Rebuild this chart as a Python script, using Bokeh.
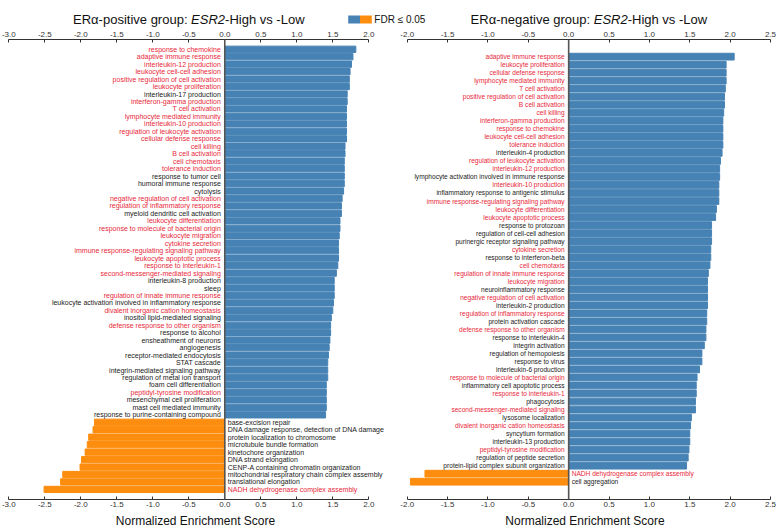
from bokeh.plotting import figure
from bokeh.layouts import row, column
from bokeh.models import (Range1d, LinearAxis, SingleIntervalTicker, PrintfTickFormatter,
                          Span, ColumnDataSource)
from bokeh.core.properties import value
from bokeh.embed import file_html
from bokeh.resources import INLINE

# ---------------- data ----------------
pos_terms = [
    "response to chemokine", "adaptive immune response", "interleukin-12 production",
    "leukocyte cell-cell adhesion", "positive regulation of cell activation", "leukocyte proliferation",
    "interleukin-17 production", "interferon-gamma production", "T cell activation",
    "lymphocyte mediated immunity", "interleukin-10 production", "regulation of leukocyte activation",
    "cellular defense response", "cell killing", "B cell activation", "cell chemotaxis",
    "tolerance induction", "response to tumor cell", "humoral immune response", "cytolysis",
    "negative regulation of cell activation", "regulation of inflammatory response",
    "myeloid dendritic cell activation", "leukocyte differentiation",
    "response to molecule of bacterial origin", "leukocyte migration", "cytokine secretion",
    "immune response-regulating signaling pathway", "leukocyte apoptotic process",
    "response to interleukin-1", "second-messenger-mediated signaling", "interleukin-8 production",
    "sleep", "regulation of innate immune response",
    "leukocyte activation involved in inflammatory response", "divalent inorganic cation homeostasis",
    "inositol lipid-mediated signaling", "defense response to other organism", "response to alcohol",
    "ensheathment of neurons", "angiogenesis", "receptor-mediated endocytosis", "STAT cascade",
    "integrin-mediated signaling pathway", "regulation of metal ion transport",
    "foam cell differentiation", "peptidyl-tyrosine modification", "mesenchymal cell proliferation",
    "mast cell mediated immunity", "response to purine-containing compound",
    "base-excision repair", "DNA damage response, detection of DNA damage",
    "protein localization to chromosome", "microtubule bundle formation", "kinetochore organization",
    "DNA strand elongation", "CENP-A containing chromatin organization",
    "mitochondrial respiratory chain complex assembly", "translational elongation",
    "NADH dehydrogenase complex assembly",
]
pos_nes = [
    1.82, 1.78, 1.76, 1.74, 1.73, 1.73, 1.70, 1.70, 1.69, 1.69, 1.69, 1.69, 1.69, 1.67, 1.67,
    1.66, 1.66, 1.66, 1.66, 1.65, 1.63, 1.62, 1.62, 1.60, 1.60, 1.59, 1.58, 1.58, 1.58, 1.57,
    1.55, 1.52, 1.52, 1.52, 1.51, 1.50, 1.48, 1.47, 1.47, 1.46, 1.45, 1.44, 1.43, 1.43, 1.43,
    1.41, 1.41, 1.41, 1.41, 1.40,
    -1.81, -1.83, -1.89, -1.91, -1.94, -1.99, -2.01, -2.25, -2.28, -2.51,
]
pos_shared = [
    1, 1, 1, 1, 1, 1, 0, 1, 1, 1, 1, 1, 1, 1, 1, 1, 1, 0, 0, 0, 1, 1, 0, 1, 1, 1, 1, 1, 1, 1,
    1, 0, 0, 1, 0, 1, 0, 1, 0, 0, 0, 0, 0, 0, 0, 0, 1, 0, 0, 0,
    0, 0, 0, 0, 0, 0, 0, 0, 0, 1,
]

neg_terms = [
    "adaptive immune response", "leukocyte proliferation", "cellular defense response",
    "lymphocyte mediated immunity", "T cell activation", "positive regulation of cell activation",
    "B cell activation", "cell killing", "interferon-gamma production", "response to chemokine",
    "leukocyte cell-cell adhesion", "tolerance induction", "interleukin-4 production",
    "regulation of leukocyte activation", "interleukin-12 production",
    "lymphocyte activation involved in immune response", "interleukin-10 production",
    "inflammatory response to antigenic stimulus", "immune response-regulating signaling pathway",
    "leukocyte differentiation", "leukocyte apoptotic process", "response to protozoan",
    "regulation of cell-cell adhesion", "purinergic receptor signaling pathway", "cytokine secretion",
    "response to interferon-beta", "cell chemotaxis", "regulation of innate immune response",
    "leukocyte migration", "neuroinflammatory response", "negative regulation of cell activation",
    "interleukin-2 production", "regulation of inflammatory response", "protein activation cascade",
    "defense response to other organism", "response to interleukin-4", "integrin activation",
    "regulation of hemopoiesis", "response to virus", "interleukin-6 production",
    "response to molecule of bacterial origin", "inflammatory cell apoptotic process",
    "response to interleukin-1", "phagocytosis", "second-messenger-mediated signaling",
    "lysosome localization", "divalent inorganic cation homeostasis", "syncytium formation",
    "interleukin-13 production", "peptidyl-tyrosine modification", "regulation of peptide secretion",
    "protein-lipid complex subunit organization",
    "NADH dehydrogenase complex assembly", "cell aggregation",
]
neg_nes = [
    2.05, 1.95, 1.95, 1.95, 1.94, 1.93, 1.93, 1.92, 1.91, 1.91, 1.91, 1.91, 1.90, 1.88, 1.87,
    1.87, 1.86, 1.86, 1.86, 1.83, 1.82, 1.77, 1.77, 1.77, 1.76, 1.76, 1.75, 1.73, 1.72, 1.72,
    1.72, 1.72, 1.71, 1.71, 1.70, 1.70, 1.68, 1.65, 1.65, 1.62, 1.59, 1.58, 1.58, 1.57, 1.57,
    1.52, 1.51, 1.50, 1.50, 1.49, 1.48, 1.46,
    -1.78, -1.96,
]
neg_shared = [
    1, 1, 1, 1, 1, 1, 1, 1, 1, 1, 1, 1, 0, 1, 1, 0, 1, 0, 1, 1, 1, 0, 0, 0, 1, 0, 1, 1, 1, 0,
    1, 0, 1, 0, 1, 0, 0, 0, 0, 0, 1, 0, 1, 0, 1, 0, 1, 0, 0, 1, 0, 0,
    1, 0,
]

pos_title = ["ER\u03b1-positive group: ", "ESR2", "-High vs -Low"]
neg_title = ["ER\u03b1-negative group: ", "ESR2", "-High vs -Low"]
xlabel = "Normalized Enrichment Score"
legend_text = "FDR \u2264 0.05"

# ---------------- style / layout ----------------
FONT = "Liberation Sans"
BLUE = "#4682b4"
ORANGE = "#fd8d0e"
RED = "#e8283a"
DARK = "#222222"
AXC = "#333333"

PAGE_W = 779
HEAD_H = 28
FIG_H = 503
BOT = 32

W1 = 390
XR1 = (-3.115, -3.115 + W1 / 72.0)
W2 = PAGE_W - W1
_s2 = 363.3 / 4.5
XR2 = (-2.0 - 16.7 / _s2, -2.0 - 16.7 / _s2 + W2 / _s2)

CW = {'E': 667, 'R': 722, '\u03b1': 578, '-': 333, 'p': 556, 'o': 556, 's': 500, 'i': 222,
      't': 278, 'v': 500, 'e': 556, ' ': 278, 'g': 556, 'r': 333, 'u': 556, ':': 278,
      'S': 667, '2': 556, 'H': 722, 'h': 556, 'L': 556, 'w': 722, 'n': 556, 'a': 556}


def tw(s, size):
    return sum(CW.get(c, 556) for c in s) / 1000.0 * size


def panel(terms, nes, shared, width, xr, bounds, pad_top, pad_bot, lab_size):
    n = len(terms)
    p = figure(width=width, height=FIG_H, output_backend="svg", toolbar_location=None,
               x_range=Range1d(*xr), y_range=Range1d(n - 1 + pad_bot, -pad_top),
               y_axis_location=None, min_border_left=0, min_border_right=0,
               min_border_top=0, min_border_bottom=BOT)
    p.outline_line_color = None
    p.grid.visible = False

    ys = list(range(n))
    cols = [BLUE if v > 0 else ORANGE for v in nes]
    tcols = [RED if s else DARK for s in shared]
    src = ColumnDataSource(dict(y=ys, nes=nes, c=cols))
    p.hbar(y="y", left=0, right="nes", height=0.84, color="c", source=src)

    pos = [i for i in ys if nes[i] > 0]
    neg = [i for i in ys if nes[i] <= 0]
    for idx, align, off in ((pos, "right", -4), (neg, "left", 3)):
        s = ColumnDataSource(dict(x=[0] * len(idx), y=idx, t=[terms[i] for i in idx],
                                  c=[tcols[i] for i in idx]))
        p.text(x="x", y="y", text="t", text_color="c", source=s, text_align=align,
               text_baseline="middle", x_offset=off, text_font=value(FONT),
               text_font_size=lab_size)

    p.add_layout(Span(location=0, dimension="height", line_color="#555555", line_width=1.6))

    top_axis = LinearAxis()
    p.add_layout(top_axis, "above")
    bottom_axis = p.below[0]
    for ax in (bottom_axis, top_axis):
        ax.bounds = bounds
        ax.ticker = SingleIntervalTicker(interval=0.5, num_minor_ticks=0)
        ax.formatter = PrintfTickFormatter(format="%.1f")
        ax.major_tick_in = 3
        ax.major_tick_out = 0
        ax.minor_tick_in = 0
        ax.minor_tick_out = 0
        ax.major_label_standoff = 3
        ax.major_label_text_font = FONT
        ax.major_label_text_font_size = "8px"
        ax.major_label_text_color = AXC
        ax.axis_line_color = AXC
        ax.major_tick_line_color = AXC
    bottom_axis.major_label_standoff = 2
    bottom_axis.axis_label = xlabel
    bottom_axis.axis_label_text_font = FONT
    bottom_axis.axis_label_text_font_size = "12px"
    bottom_axis.axis_label_text_font_style = "normal"
    bottom_axis.axis_label_text_color = "#111111"
    bottom_axis.axis_label_standoff = 4
    return p


p1 = panel(pos_terms, pos_nes, pos_shared, W1, XR1, (-3.0, 2.0), 1.31, 1.35, "7px")
p2 = panel(neg_terms, neg_nes, neg_shared, W2, XR2, (-2.0, 2.5), 2.14, 2.22, "6.6px")


# ---------------- header: titles and legend ----------------
def page_x(v, xr, x0, w):
    return x0 + (v - xr[0]) / (xr[1] - xr[0]) * w


head = figure(width=PAGE_W, height=HEAD_H, output_backend="svg", toolbar_location=None,
              x_range=Range1d(0, PAGE_W), y_range=Range1d(HEAD_H, 0),
              x_axis_location=None, y_axis_location=None,
              min_border_left=0, min_border_right=0, min_border_top=0, min_border_bottom=0)
head.outline_line_color = None
head.grid.visible = False

TS = 13
TY = 19
for parts, xr, x0, w, b in ((pos_title, XR1, 0, W1, (-3.0, 2.0)),
                            (neg_title, XR2, W1, W2, (-2.0, 2.5))):
    cx = page_x((b[0] + b[1]) / 2.0, xr, x0, w)
    start = cx - sum(tw(t, TS) for t in parts) / 2.0
    for k, part in enumerate(parts):
        head.text(x=[start], y=[TY], text=[part], text_align="left", text_baseline="middle",
                  text_font=value(FONT), text_font_size=f"{TS}px", text_color="#111111",
                  text_font_style="italic" if k == 1 else "normal")
        start += tw(part, TS)

LX = 347.7
SW = 11.8
head.quad(left=[LX, LX + SW], right=[LX + SW, LX + 2 * SW], top=[15, 15], bottom=[23, 23],
          color=[BLUE, ORANGE], line_color=None)
head.text(x=[LX + 2 * SW + 2.5], y=[19], text=[legend_text], text_align="left",
          text_baseline="middle", text_font=value(FONT), text_font_size="10px",
          text_color="#111111")

layout = column(head, row(p1, p2))
open("out.html", "w").write(file_html(layout, INLINE))
